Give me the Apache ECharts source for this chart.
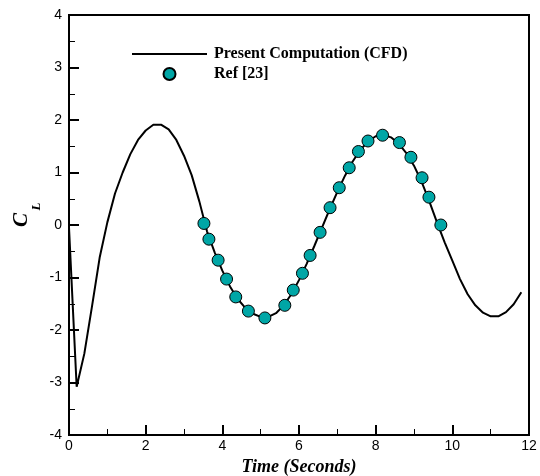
<!DOCTYPE html>
<html>
<head>
<meta charset="utf-8">
<style>html,body{margin:0;padding:0;background:#fff;}#c{width:540px;height:476px;}</style>
<script src="https://cdn.jsdelivr.net/npm/echarts@6/dist/echarts.min.js"></script>
</head>
<body>
<div id="c"></div>
<script>
var cfdTime = [0, 0.2, 0.4, 0.6, 0.8, 1.0, 1.2, 1.4, 1.6, 1.8, 2.0, 2.2, 2.4, 2.6, 2.8, 3.0, 3.2, 3.4, 3.6, 3.8, 4.0, 4.2, 4.4, 4.6, 4.8, 5.0, 5.2, 5.4, 5.6, 5.8, 6.0, 6.2, 6.4, 6.6, 6.8, 7.0, 7.2, 7.4, 7.6, 7.8, 8.0, 8.2, 8.4, 8.6, 8.8, 9.0, 9.2, 9.4, 9.6, 9.8, 10.0, 10.2, 10.4, 10.6, 10.8, 11.0, 11.2, 11.4, 11.6, 11.8];
var cfdCL = [-0.05, -3.08, -2.45, -1.55, -0.62, 0.05, 0.6, 1.0, 1.35, 1.62, 1.8, 1.91, 1.91, 1.82, 1.62, 1.32, 0.95, 0.45, -0.12, -0.52, -0.87, -1.17, -1.41, -1.58, -1.69, -1.75, -1.75, -1.68, -1.53, -1.32, -1.05, -0.74, -0.40, -0.05, 0.30, 0.63, 0.94, 1.21, 1.43, 1.59, 1.69, 1.72, 1.67, 1.55, 1.37, 1.13, 0.82, 0.45, 0.05, -0.33, -0.68, -1.03, -1.32, -1.53, -1.67, -1.74, -1.74, -1.66, -1.51, -1.28];
var refTime = [3.52, 3.65, 3.89, 4.11, 4.35, 4.68, 5.11, 5.63, 5.85, 6.09, 6.29, 6.55, 6.81, 7.05, 7.31, 7.55, 7.80, 8.18, 8.62, 8.92, 9.21, 9.39, 9.70];
var refCL = [0.03, -0.27, -0.67, -1.03, -1.37, -1.64, -1.77, -1.53, -1.24, -0.92, -0.58, -0.14, 0.33, 0.71, 1.09, 1.40, 1.60, 1.71, 1.57, 1.29, 0.90, 0.53, 0.00];
var seriesNames = ['Present Computation (CFD)', 'Ref [23]'];
var xTitle = 'Time (Seconds)';
var yTitleMain = 'C';
var yTitleSub = 'L';

var cfdData = cfdTime.map(function (t, i) { return [t, cfdCL[i]]; });
var refData = refTime.map(function (t, i) { return [t, refCL[i]]; });

var chart = echarts.init(document.getElementById('c'), null, {renderer: 'canvas'});
var axisCommon = {
  axisLine: {show: true, onZero: false, lineStyle: {color: '#000', width: 2}},
  axisTick: {show: true, inside: true, length: 10, lineStyle: {color: '#000', width: 2}},
  minorTick: {show: true, splitNumber: 2, length: 6, lineStyle: {color: '#000', width: 1}},
  splitLine: {show: false},
  minorSplitLine: {show: false},
  axisLabel: {color: '#000', fontFamily: 'Liberation Sans', fontSize: 14}
};
chart.setOption({
  animation: false,
  backgroundColor: '#fff',
  grid: {left: 69, right: 11, top: 15, bottom: 41, containLabel: false, outerBoundsMode: 'none',
         show: true, borderColor: '#000', borderWidth: 2, backgroundColor: 'transparent'},
  legend: {
    orient: 'vertical', left: 127, top: 41, itemWidth: 75, itemHeight: 12, itemGap: 4,
    symbolKeepAspect: true,
    data: [
      {name: seriesNames[0], icon: 'path://M0,0H75V2H0Z', itemStyle: {color: '#000'}},
      {name: seriesNames[1]}
    ],
    textStyle: {fontFamily: 'Liberation Serif', fontWeight: 'bold', fontSize: 16, color: '#000', lineHeight: 16, padding: [0, 0, 0, 2]}
  },
  xAxis: Object.assign({}, axisCommon, {
    type: 'value', min: 0, max: 12, interval: 2,
    axisLabel: Object.assign({}, axisCommon.axisLabel, {margin: 4}),
    name: xTitle, nameLocation: 'middle', nameGap: 11,
    nameTextStyle: {fontFamily: 'Liberation Serif', fontWeight: 'bold', fontStyle: 'italic', fontSize: 18, color: '#000'}
  }),
  yAxis: Object.assign({}, axisCommon, {
    type: 'value', min: -4, max: 4, interval: 1,
    axisLabel: Object.assign({}, axisCommon.axisLabel, {margin: 7})
  }),
  graphic: [
    {type: 'text', x: 21.5, y: 220, rotation: Math.PI / 2,
     style: {text: yTitleMain, fontFamily: 'Liberation Serif', fontWeight: 'bold', fontStyle: 'italic', fontSize: 21, fill: '#000', align: 'center', verticalAlign: 'middle'}},
    {type: 'text', x: 36.5, y: 206.5, rotation: Math.PI / 2,
     style: {text: yTitleSub, fontFamily: 'Liberation Serif', fontWeight: 'bold', fontStyle: 'italic', fontSize: 13, fill: '#000', align: 'center', verticalAlign: 'middle'}}
  ],
  series: [
    {name: seriesNames[0], type: 'line', data: cfdData, symbol: 'none', smooth: false,
     lineStyle: {color: '#000', width: 2}, itemStyle: {color: '#000'}, z: 2},
    {name: seriesNames[1], type: 'scatter', data: refData, symbol: 'circle', symbolSize: 12,
     itemStyle: {color: '#00A6A6', borderColor: '#000', borderWidth: 1, opacity: 1}, z: 3}
  ]
});
</script>
</body>
</html>
